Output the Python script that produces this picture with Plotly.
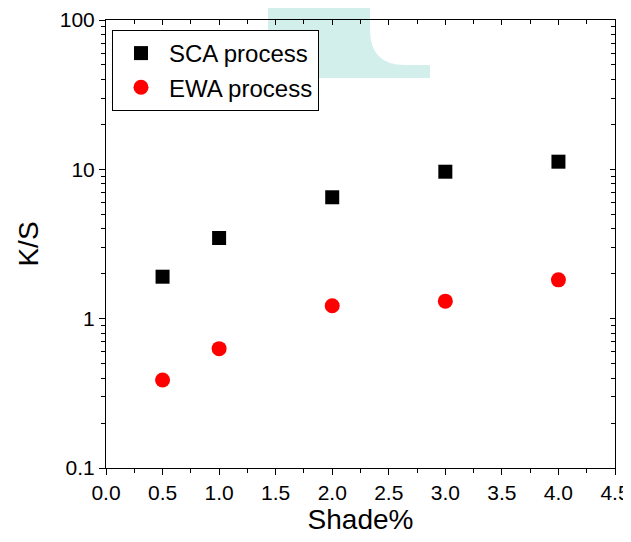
import plotly.graph_objects as go

shade = [0.5, 1.0, 2.0, 3.0, 4.0]
sca_ks = [1.91, 3.47, 6.50, 9.64, 11.25]
ewa_ks = [0.388, 0.63, 1.22, 1.31, 1.82]

x_ticks = [0.0, 0.5, 1.0, 1.5, 2.0, 2.5, 3.0, 3.5, 4.0, 4.5]
x_ticktext = ["0.0", "0.5", "1.0", "1.5", "2.0", "2.5", "3.0", "3.5", "4.0", "4.5"]
y_ticks = [0.1, 1, 10, 100]
y_ticktext = ["0.1", "1", "10", "100"]
y_minor = [k * 10.0 ** e for e in (-1, 0, 1) for k in range(2, 10)]

FONT = "Liberation Sans, Arial, sans-serif"
OFF = 8  # page body margin
W, H = 631 - OFF, 542 - OFF
L, R, T, B = 98, 16, 12, 74
PW, PH = W - L - R, H - T - B


def px(x, y):
    """page pixel -> paper coords"""
    return (x - OFF - L) / PW, (H - B - (y - OFF)) / PH


fig = go.Figure()
fig.add_trace(go.Scatter(
    x=shade, y=sca_ks, mode="markers", name="SCA process",
    marker=dict(symbol="square", size=14, color="black"),
))
fig.add_trace(go.Scatter(
    x=shade, y=ewa_ks, mode="markers", name="EWA process",
    marker=dict(symbol="circle", size=15, color="#ff0000"),
))
# invisible trace to anchor mirrored (inside-tick) top/right axes
fig.add_trace(go.Scatter(
    x=shade, y=sca_ks, mode="markers", xaxis="x2", yaxis="y2",
    marker=dict(opacity=0), showlegend=False, hoverinfo="skip",
))

# light watermark shape
p0, p1, p2 = px(268, 0), px(370, 0), px(370, 30)
cc, ee = px(370, 65), px(405, 65)
a1, a2, a3 = px(430, 65), px(430, 78), px(268, 78)
path = (f"M {p0[0]},{p0[1]} L {p1[0]},{p1[1]} L {p2[0]},{p2[1]} "
        f"Q {cc[0]},{cc[1]} {ee[0]},{ee[1]} L {a1[0]},{a1[1]} L {a2[0]},{a2[1]} "
        f"L {a3[0]},{a3[1]} Z")
fig.add_shape(type="path", path=path, xref="paper", yref="paper",
              fillcolor="#d2efec", line=dict(width=0), layer="below")

axis_common = dict(showline=True, linecolor="black", linewidth=1, automargin=False,
                   showgrid=False, zeroline=False, tickcolor="black", tickwidth=1)

fig.update_layout(
    width=W, height=H,
    margin=dict(l=L, r=R, t=T, b=B, autoexpand=False),
    paper_bgcolor="white", plot_bgcolor="rgba(0,0,0,0)",
    font=dict(family=FONT, color="black", size=21),
    xaxis=dict(
        **axis_common, range=[0, 4.5], tickmode="array", tickvals=x_ticks,
        ticktext=x_ticktext, ticks="outside", ticklen=6,
        tickfont=dict(size=21, family=FONT),
        minor=dict(ticks="outside", ticklen=4, dtick=0.25, tick0=0,
                   tickcolor="black", showgrid=False),
        title=dict(text="Shade%", font=dict(size=28, family=FONT), standoff=6),
    ),
    yaxis=dict(
        **axis_common, type="log", range=[-1, 2], tickmode="array",
        tickvals=y_ticks, ticktext=y_ticktext, ticks="outside", ticklen=6,
        tickfont=dict(size=21, family=FONT),
        minor=dict(ticks="outside", ticklen=4, tickmode="array",
                   tickvals=y_minor, tickcolor="black", showgrid=False),
        title=dict(text="K/S", font=dict(size=28, family=FONT), standoff=12),
    ),
    xaxis2=dict(
        **axis_common, overlaying="x", side="top", range=[0, 4.5],
        tickmode="array", tickvals=x_ticks, ticks="inside", ticklen=5,
        showticklabels=False,
        minor=dict(ticks="inside", ticklen=4, dtick=0.25, tick0=0,
                   tickcolor="black", showgrid=False),
    ),
    yaxis2=dict(
        **axis_common, overlaying="y", side="right", type="log", range=[-1, 2],
        tickmode="array", tickvals=y_ticks, ticks="inside", ticklen=5,
        showticklabels=False,
        minor=dict(ticks="inside", ticklen=4, tickmode="array",
                   tickvals=y_minor, tickcolor="black", showgrid=False),
    ),
    legend=dict(
        x=px(112, 30)[0], y=px(112, 30)[1], xanchor="left", yanchor="top",
        bgcolor="white", bordercolor="black", borderwidth=1,
        font=dict(size=24, family=FONT), tracegroupgap=0, itemwidth=46,
    ),
    showlegend=True,
)

fig.write_html("out.html")
